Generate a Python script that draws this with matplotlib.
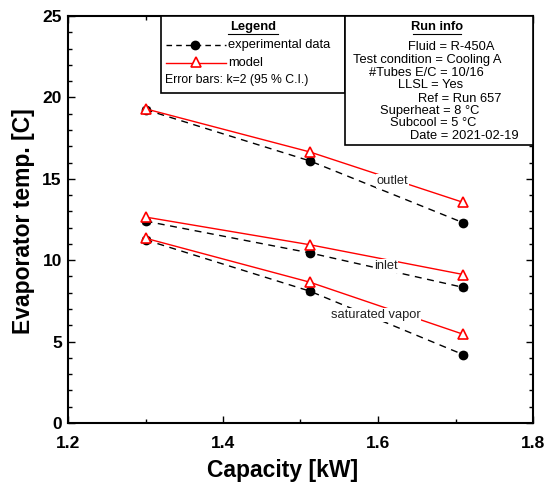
import matplotlib
matplotlib.use("Agg")
import matplotlib.pyplot as plt
from matplotlib.lines import Line2D
from matplotlib.patches import Rectangle
from matplotlib.ticker import MultipleLocator

plt.rcParams['font.family'] = ['Liberation Sans', 'DejaVu Sans']

capacity = [1.30, 1.512, 1.710]
outlet_exp = [19.25, 16.10, 12.30]
outlet_model = [19.30, 16.65, 13.55]
inlet_exp = [12.40, 10.45, 8.33]
inlet_model = [12.65, 10.95, 9.12]
satvap_exp = [11.25, 8.10, 4.20]
satvap_model = [11.35, 8.65, 5.45]
exp_err = [0.15, 0.15, 0.15]

W, H = 551, 486
fig = plt.figure(figsize=(W / 100, H / 100), dpi=100)
ax = fig.add_axes([68 / W, 1 - 423 / H, 465 / W, 407 / H])

def fp(x, y):
    return (x / W, 1 - y / H)

for e, m in [(outlet_exp, outlet_model), (inlet_exp, inlet_model), (satvap_exp, satvap_model)]:
    ax.errorbar(capacity, e, yerr=exp_err, fmt='none', ecolor='#888888', elinewidth=0.8, capsize=3, zorder=2)
    ax.plot(capacity, e, color='black', ls=(0, (5, 4)), lw=1.0, marker='o', ms=6,
            mfc='black', mec='black', zorder=3)
    ax.plot(capacity, m, color='red', ls='-', lw=1.0, marker='^', ms=7,
            mfc='white', mec='red', mew=1.2, zorder=4)

lbl_kw = dict(ha='center', va='center', fontsize=9.3, color='#222222',
              bbox=dict(facecolor='white', edgecolor='none', pad=0.5), zorder=5)
ax.text(1.619, 14.86, 'outlet', **lbl_kw)
ax.text(1.610, 9.64, 'inlet', **lbl_kw)
ax.text(1.597, 6.63, 'saturated vapor', **lbl_kw)

ax.set_xlim(1.2, 1.8)
ax.set_ylim(0, 25)
ax.xaxis.set_major_locator(MultipleLocator(0.2))
ax.xaxis.set_minor_locator(MultipleLocator(0.1))
ax.yaxis.set_major_locator(MultipleLocator(5))
ax.yaxis.set_minor_locator(MultipleLocator(1))
ax.xaxis.set_major_formatter(plt.FuncFormatter(lambda v, p: f"{v:.1f}"))
ax.tick_params(which='both', direction='in', top=True, right=True, width=1.0)
ax.tick_params(which='major', length=5, labelsize=12.5)
ax.tick_params(axis='x', which='major', pad=9)
ax.tick_params(axis='y', which='major', pad=4.5)
ax.tick_params(which='minor', length=3)
for lab in ax.get_xticklabels() + ax.get_yticklabels():
    lab.set_fontweight('bold')
for s in ax.spines.values():
    s.set_linewidth(1.5)

fig.text(*fp(283, 470), 'Capacity [kW]', ha='center', va='center', fontsize=16.5, fontweight='bold')
fig.text(*fp(23.5, 221), 'Evaporator temp. [C]', ha='center', va='center', rotation=90,
         fontsize=16.5, fontweight='bold')

FS = 9.3
# Legend box
x0, y0 = fp(161, 93)
x1, y1 = fp(345, 16)
fig.add_artist(Rectangle((x0, y0), x1 - x0, y1 - y0, transform=fig.transFigure,
                         facecolor='white', edgecolor='black', lw=1.2, zorder=10))
fig.text(*fp(253, 27), 'Legend', ha='center', va='center', fontsize=FS,
         fontweight='bold', zorder=11)
fig.add_artist(Line2D([fp(253 - 25, 0)[0], fp(253 + 25, 0)[0]], [fp(0, 34)[1]] * 2,
                      transform=fig.transFigure, color='black', lw=0.8, zorder=11))
fig.add_artist(Line2D([fp(166, 0)[0], fp(226, 0)[0]], [fp(0, 45)[1]] * 2,
                      transform=fig.transFigure, color='black', ls=(0, (4, 3)), lw=1.0, zorder=11))
fig.add_artist(Line2D([fp(195, 0)[0]], [fp(0, 45)[1]], transform=fig.transFigure,
                      color='black', marker='o', ms=6, ls='none', zorder=12))
fig.text(*fp(228, 45), 'experimental data', ha='left', va='center', fontsize=FS, zorder=11)
fig.add_artist(Line2D([fp(166, 0)[0], fp(226, 0)[0]], [fp(0, 63)[1]] * 2,
                      transform=fig.transFigure, color='red', lw=1.0, zorder=11))
fig.add_artist(Line2D([fp(196, 0)[0]], [fp(0, 62)[1]], transform=fig.transFigure,
                      color='red', marker='^', ms=7, mfc='white', mew=1.2, ls='none', zorder=12))
fig.text(*fp(228, 63), 'model', ha='left', va='center', fontsize=FS, zorder=11)
fig.text(*fp(165, 80), 'Error bars: k=2 (95 % C.I.)', ha='left', va='center', fontsize=8.8, zorder=11)

# Run info box
x0, y0 = fp(345, 145)
x1, y1 = fp(533, 16)
fig.add_artist(Rectangle((x0, y0), x1 - x0, y1 - y0, transform=fig.transFigure,
                         facecolor='white', edgecolor='black', lw=1.2, zorder=10))
fig.text(*fp(437, 27), 'Run info', ha='center', va='center', fontsize=FS,
         fontweight='bold', zorder=11)
fig.add_artist(Line2D([fp(437 - 24, 0)[0], fp(437 + 24, 0)[0]], [fp(0, 34)[1]] * 2,
                      transform=fig.transFigure, color='black', lw=0.8, zorder=11))
run_lines = ['Fluid = R-450A', 'Test condition = Cooling A', '#Tubes E/C = 10/16',
             'LLSL = Yes', 'Ref = Run 657', 'Superheat = 8 \u00b0C', 'Subcool = 5 \u00b0C',
             'Date = 2021-02-19']
run_x = [408, 353, 369, 398, 418, 380, 390, 410]
run_y = [47, 59.5, 72.5, 85.5, 98.5, 111, 123.5, 136]
for s, xx, yy in zip(run_lines, run_x, run_y):
    fig.text(*fp(xx, yy), s, ha='left', va='center', fontsize=FS, zorder=11)

fig.savefig('out.png', dpi=100)
